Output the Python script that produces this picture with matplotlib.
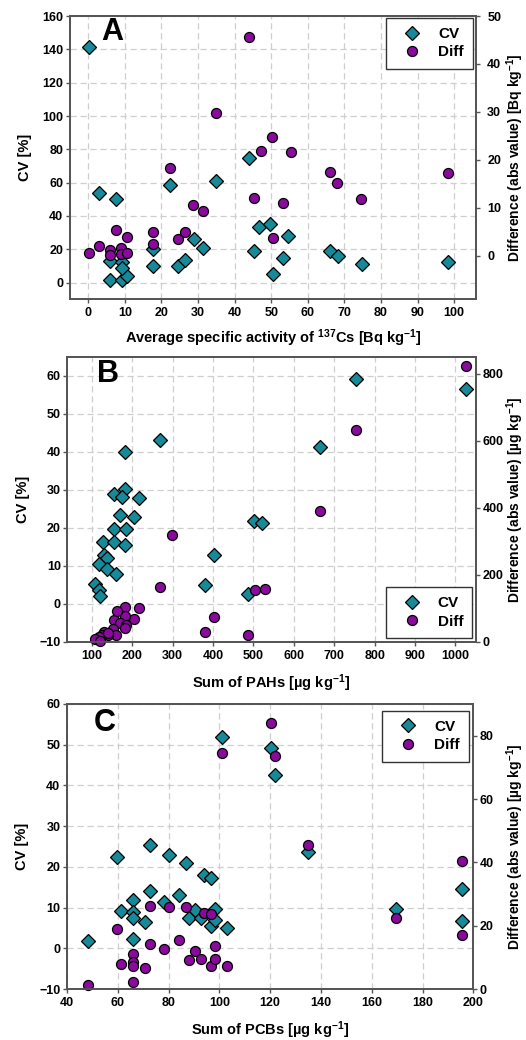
import numpy as np
import matplotlib
matplotlib.use('Agg')
import matplotlib.pyplot as plt

# 字体: 粗体 Arial 风格
plt.rcParams['font.family'] = ['Liberation Sans', 'DejaVu Sans']
plt.rcParams['font.weight'] = 'bold'
plt.rcParams['axes.labelweight'] = 'bold'
plt.rcParams['mathtext.fontset'] = 'custom'
plt.rcParams['mathtext.rm'] = 'Liberation Sans:bold'
plt.rcParams['mathtext.bf'] = 'Liberation Sans:bold'
plt.rcParams['mathtext.default'] = 'bf'

CV_COLOR = '#168a99'
DIFF_COLOR = '#8a0a9e'

# --- A: 137Cs ---
cs_x_cv = [0.3, 2.8, 7.5, 22.2, 34.9, 43.9, 5.8, 9.1, 10.6, 5.8, 9.1, 9.3, 17.6, 17.6,
           24.5, 26.3, 28.8, 31.4, 45.2, 46.8, 49.8, 50.4, 53.3, 54.6, 66.1, 68.2, 74.7, 98.4]
cs_cv = [141.4, 53.8, 50.2, 58.4, 61.0, 74.8, 1.4, 1.4, 3.8, 13.0, 12.6, 9.0, 20.0, 10.0,
         10.0, 13.4, 26.3, 21.0, 19.1, 33.3, 35.3, 5.2, 14.7, 28.1, 18.7, 15.9, 11.2, 12.4]
cs_x_diff = [0.2, 2.8, 5.9, 5.9, 7.5, 8.9, 8.9, 10.6, 10.6, 17.6, 17.6, 24.4, 26.4, 28.7,
             31.4, 45.2, 50.4, 53.3, 74.6, 68.1, 66.1, 98.4, 22.2, 44.0, 47.3, 50.1, 55.3, 35.0]
cs_diff = [0.6, 2.1, 1.2, 0.1, 5.3, 1.7, 0.3, 0.6, 4.0, 4.9, 2.4, 3.5, 5.0, 10.6,
           9.3, 12.1, 3.75, 11.0, 11.8, 15.1, 17.5, 17.3, 18.2, 45.6, 21.9, 24.8, 21.7, 29.8]

# --- B: PAHs ---
pah_x_cv = [270, 182.5, 182.5, 156, 176, 218, 171, 205, 155, 184, 501.5, 520.5, 753.5, 666,
            1025, 128, 154.6, 182.8, 130.7, 138.2, 117.4, 138.2, 160.5, 107.5, 119.1, 119.8,
            402.5, 381, 486]
pah_cv = [43.0, 40.0, 30.3, 28.8, 28.1, 27.9, 23.3, 22.9, 19.8, 19.8, 21.8, 21.3, 59.1, 41.3,
          56.4, 16.2, 16.3, 15.4, 13.0, 12.2, 10.6, 9.1, 7.9, 5.2, 3.6, 2.2,
          12.8, 5.1, 2.7]
pah_x_diff = [297.6, 267.9, 402.5, 381, 486, 505, 528, 753.5, 666, 1025,
              182.8, 217.5, 204.1, 156.3, 182.8, 170.4, 185.3, 182.8, 153.8, 160.5,
              129.8, 139.7, 125.8, 119.1, 108.4, 120.8, 163, 140]
pah_diff = [319, 165, 76, 30, 21, 155, 158, 631, 390, 822,
            105, 100, 68, 66, 79, 56, 51, 41, 38, 21,
            31, 21, 21, 16, 9, 4, 92, 26]

# --- C: PCBs ---
pcb_x = [48.3, 59.5, 61.1, 66.1, 66.1, 66.0, 66.1, 70.6, 72.6, 72.6, 78.1, 80.1, 84.2, 86.9,
         87.9, 90.4, 92.7, 94.1, 96.9, 96.8, 98.4, 98.4, 103.0, 101.0, 120.3, 121.8, 135.1,
         169.5, 195.7, 195.7]
pcb_cv = [1.8, 22.4, 9.3, 11.8, 9.0, 7.5, 2.3, 6.6, 14.0, 25.4, 11.5, 23.0, 13.1, 21.1,
          7.4, 9.5, 7.4, 18.1, 17.3, 5.4, 9.8, 6.9, 5.0, 51.8, 49.3, 42.6, 23.7,
          9.6, 14.6, 6.8]
pcb_diff = [1.3, 19.1, 8.1, 11.1, 8.6, 7.2, 2.2, 6.8, 26.2, 14.2, 12.7, 25.9, 15.5, 25.8,
            9.2, 12.2, 9.5, 24.0, 23.8, 7.4, 13.5, 9.7, 7.2, 74.5, 84.0, 73.5, 45.4,
            22.5, 40.6, 17.0]


def draw_panel(fig, rect, letter, letter_pos, x_cv, cv, x_diff, diff,
               xlim, xticks, ylim, yticks, y2lim, y2ticks,
               xlabel, y2label, leg_loc, leg_anchor, xlab_y, y2lab_x, y2pad):
    ax = fig.add_axes(rect)
    ax2 = ax.twinx()

    ax.set_axisbelow(True)
    ax.grid(True, color='#cfcfcf', linestyle=(0, (5, 3)), linewidth=0.9)

    ax.plot(x_cv, cv, 'D', ms=7.2, mfc=CV_COLOR, mec='black', mew=0.9,
            ls='none', label='CV', clip_on=False)
    ax2.plot(x_diff, diff, 'o', ms=7.2, mfc=DIFF_COLOR, mec='black', mew=0.9,
             ls='none', label='Diff', clip_on=False)

    ax.set_xlim(*xlim)
    ax.set_xticks(xticks)
    ax.set_ylim(*ylim)
    ax.set_yticks(yticks)
    ax2.set_ylim(*y2lim)
    ax2.set_yticks(y2ticks)

    for a in (ax, ax2):
        for s in a.spines.values():
            s.set_color('#555555')
            s.set_linewidth(1.3)
    ax.tick_params(axis='x', direction='out', length=3, width=1, colors='#555555',
                   labelcolor='black', labelsize=9, pad=2.5)
    ax.tick_params(axis='y', direction='out', length=3, width=1, colors='#555555',
                   labelcolor='black', labelsize=9, pad=1.8)
    ax2.tick_params(axis='y', direction='out', length=3, width=1, colors='#555555',
                    labelcolor='black', labelsize=9, pad=y2pad)

    ax.set_xlabel(xlabel, fontsize=10.5, va='baseline')
    ax.xaxis.set_label_coords(0.5, xlab_y)
    ax.set_ylabel('CV [%]', fontsize=10.5, va='center')
    ax.yaxis.set_label_coords(-0.11, 0.5)
    ax2.set_ylabel(y2label, fontsize=10, va='center', rotation=90)
    ax2.yaxis.set_label_coords(y2lab_x, 0.5)

    ax.text(letter_pos[0], letter_pos[1], letter, transform=ax.transAxes,
            fontsize=22, fontweight='bold', ha='center', va='center')

    h1, l1 = ax.get_legend_handles_labels()
    h2, l2 = ax2.get_legend_handles_labels()
    leg = ax2.legend(h1 + h2, l1 + l2, loc=leg_loc, bbox_to_anchor=leg_anchor,
                     borderaxespad=0, fancybox=False, framealpha=1, edgecolor='#333333',
                     fontsize=11, numpoints=1, borderpad=0.6, handlelength=2.2,
                     handletextpad=0.6, labelspacing=0.3)
    leg.get_frame().set_linewidth(1.0)
    return ax, ax2


fig = plt.figure(figsize=(5.26, 10.4), dpi=100)

draw_panel(fig, [0.1331, 0.7122, 0.7719, 0.2724], 'A', (0.104, 0.943),
           cs_x_cv, cs_cv, cs_x_diff, cs_diff,
           (-5, 106), np.arange(0, 101, 10), (-10, 160), np.arange(0, 161, 20),
           (-9.1, 50), np.arange(0, 51, 10),
           'Average specific activity of $^{137}$Cs [Bq kg$^{-1}$]',
           'Difference (abs value) [Bq kg$^{-1}$]',
           'upper right', (0.993, 0.994), -0.1525, 1.096, 5)

draw_panel(fig, [0.1283, 0.3827, 0.7760, 0.2743], 'B', (0.10, 0.938),
           pah_x_cv, pah_cv, pah_x_diff, pah_diff,
           (40, 1050), np.arange(100, 1001, 100), (-10, 65), np.arange(-10, 61, 10),
           (0, 851), np.arange(0, 801, 200),
           'Sum of PAHs [µg kg$^{-1}$]',
           'Difference (abs value) [µg kg$^{-1}$]',
           'lower right', (0.992, 0.015), -0.160, 1.098, 1.8)

draw_panel(fig, [0.1274, 0.0488, 0.7724, 0.2743], 'C', (0.094, 0.932),
           pcb_x, pcb_cv, pcb_x, pcb_diff,
           (40, 200), np.arange(40, 201, 20), (-10, 60), np.arange(-10, 61, 10),
           (0, 90), np.arange(0, 81, 20),
           'Sum of PCBs [µg kg$^{-1}$]',
           'Difference (abs value) [µg kg$^{-1}$]',
           'upper right', (0.989, 0.9765), -0.161, 1.103, 1.8)

fig.savefig('out.png', dpi=100)
